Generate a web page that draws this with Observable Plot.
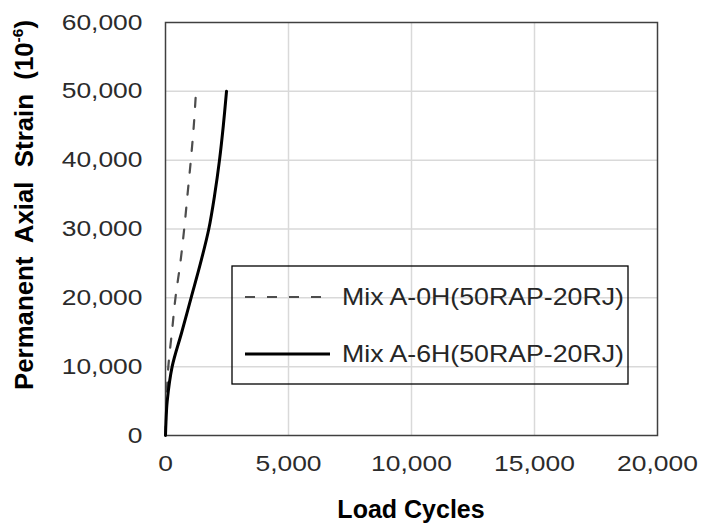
<!DOCTYPE html>
<html>
<head>
<meta charset="utf-8">
<script src="https://cdn.jsdelivr.net/npm/d3@7"></script>
<script src="https://cdn.jsdelivr.net/npm/@observablehq/plot@0.6"></script>
<style>
  body { margin: 0; background: #fff; }
  #chart svg { display: block; font-family: "Liberation Sans", Arial, sans-serif; }
</style>
</head>
<body>
<div id="chart"></div>
<script>
// Permanent axial strain vs. load cycles for two mixes
const seriesNames = ["Mix A-0H(50RAP-20RJ)", "Mix A-6H(50RAP-20RJ)"];

const cycles0H = [0, 40, 115, 260, 405, 600, 760, 895, 1030, 1150, 1240];
const strain0H = [0, 5000, 10000, 15000, 20000, 25000, 30000, 35000, 40000, 45000, 50000];

const cycles6H = [0, 20, 70, 270, 660, 1040, 1420, 1760, 2000, 2195, 2350, 2480];
const strain6H = [0, 2000, 5000, 10000, 15000, 20000, 25000, 30000, 35000, 40000, 45000, 50000];

const xTicks = [0, 5000, 10000, 15000, 20000];
const yTicks = [0, 10000, 20000, 30000, 40000, 50000, 60000];

const xTitle = "Load Cycles";
const yTitle = "Permanent  Axial  Strain  (10";
const yTitleExp = "-6";
const yTitleEnd = ")";

const rows0H = cycles0H.map((c, i) => ({ series: seriesNames[0], cycles: c, strain: strain0H[i] }));
const rows6H = cycles6H.map((c, i) => ({ series: seriesNames[1], cycles: c, strain: strain6H[i] }));

const fmt = d3.format(",");
const gridColor = "#d9d9d9";

const plot = Plot.plot({
  width: 704,
  height: 525,
  marginLeft: 165,
  marginRight: 47,
  marginTop: 22,
  marginBottom: 90,
  style: { fontFamily: "'Liberation Sans', Arial, sans-serif", fontSize: "22px", color: "#2b2b2b", background: "#fff" },
  x: { domain: [0, 20000], ticks: xTicks, tickFormat: fmt, tickSize: 0, tickPadding: 20, label: null },
  y: { domain: [0, 60000], ticks: yTicks, tickFormat: fmt, tickSize: 0, tickPadding: 23, label: null },
  marks: [
    Plot.ruleX(xTicks.slice(1, -1), { stroke: gridColor, strokeWidth: 1.5 }),
    Plot.ruleY(yTicks.slice(1, -1), { stroke: gridColor, strokeWidth: 1.5 }),
    Plot.frame({ stroke: "#404040", strokeWidth: 1.5 }),
    Plot.line(rows0H, { x: "cycles", y: "strain", stroke: "#4d4d4d", strokeWidth: 2.2, strokeDasharray: "9,13", curve: "catmull-rom" }),
    Plot.line(rows6H, { x: "cycles", y: "strain", stroke: "#000", strokeWidth: 3, curve: "catmull-rom" })
  ]
});

document.getElementById("chart").appendChild(plot);
const svg = d3.select(plot);

// widen tick labels slightly
svg.selectAll("text").each(function () {
  const w = this.getComputedTextLength();
  this.setAttribute("textLength", (w * 1.2).toFixed(1));
  this.setAttribute("lengthAdjust", "spacingAndGlyphs");
});

// axis titles
svg.append("text")
  .attr("x", 411).attr("y", 518)
  .attr("text-anchor", "middle")
  .attr("font-weight", "bold")
  .attr("font-size", 25)
  .attr("fill", "#000")
  .text(xTitle);

const yt = svg.append("text")
  .attr("transform", "translate(33,205) rotate(-90)")
  .attr("text-anchor", "middle")
  .attr("font-weight", "bold")
  .attr("font-size", 25)
  .attr("fill", "#000")
  .style("white-space", "pre");
yt.append("tspan").text(yTitle);
yt.append("tspan").attr("font-size", 15).attr("dy", -10).text(yTitleExp);
yt.append("tspan").attr("dy", 10).text(yTitleEnd);
yt.attr("textLength", 370).attr("lengthAdjust", "spacingAndGlyphs");

// legend
const lg = svg.append("g").attr("text-anchor", "start");
lg.append("rect").attr("x", 232).attr("y", 266).attr("width", 396).attr("height", 118)
  .attr("fill", "none").attr("stroke", "#000").attr("stroke-width", 1.3);
lg.append("line").attr("x1", 245).attr("x2", 323).attr("y1", 297).attr("y2", 297)
  .attr("stroke", "#4d4d4d").attr("stroke-width", 2.2).attr("stroke-dasharray", "10,12");
lg.append("line").attr("x1", 245).attr("x2", 330).attr("y1", 354).attr("y2", 354)
  .attr("stroke", "#000").attr("stroke-width", 3);
seriesNames.forEach((name, i) => {
  lg.append("text").attr("x", 342).attr("y", 305 + i * 57)
    .attr("text-anchor", "start")
    .attr("font-size", 24).attr("fill", "#262626")
    .attr("textLength", 282).attr("lengthAdjust", "spacingAndGlyphs")
    .text(name);
});
</script>
</body>
</html>
